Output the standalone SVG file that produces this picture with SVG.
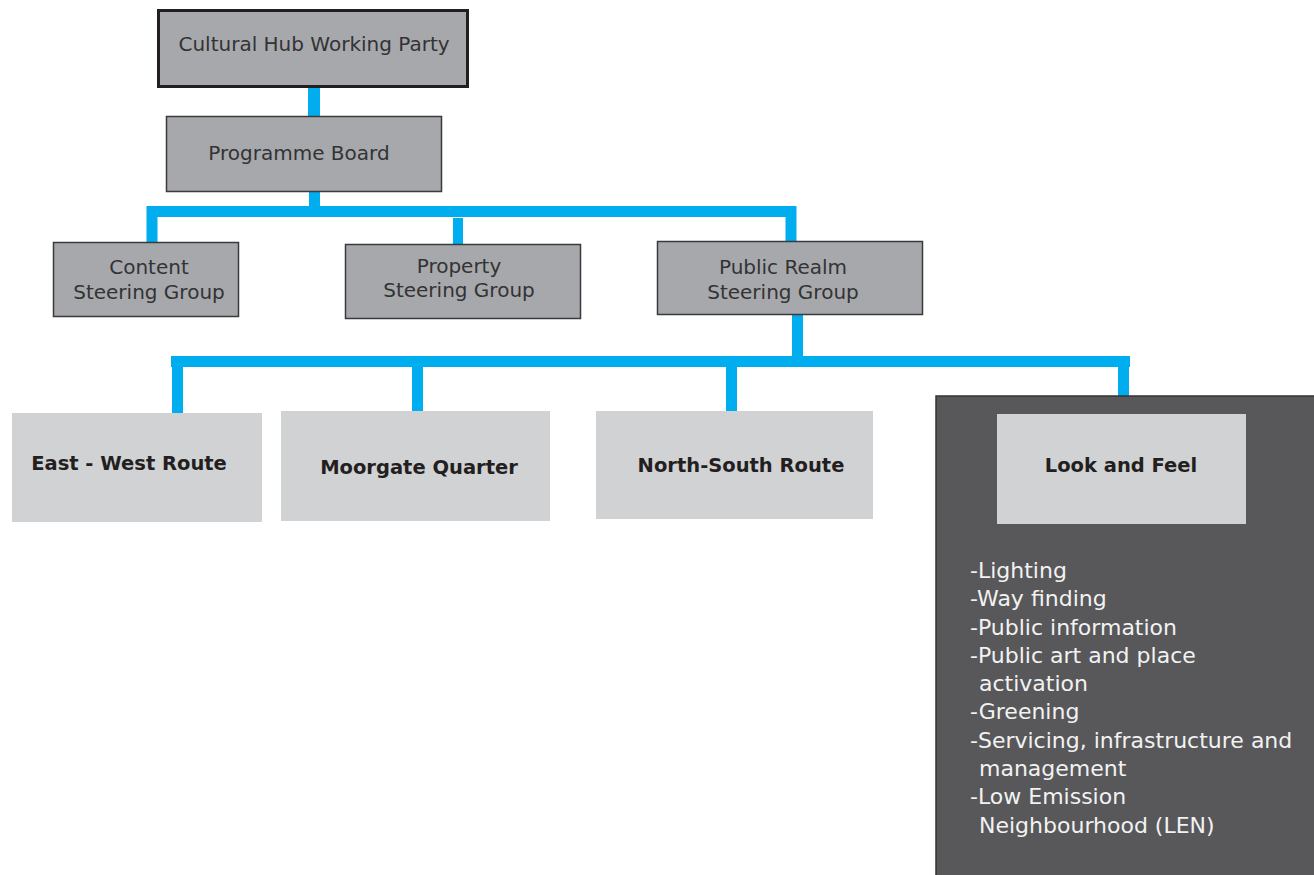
<svg xmlns="http://www.w3.org/2000/svg" width="1314" height="875" viewBox="0 0 1314 875">
<style>
.bg{fill:#ffffff}
.gray{fill:#a7a8ab;stroke:#3a3a3c;stroke-width:1.5}
.top{fill:#a7a8ab;stroke:#231f20;stroke-width:3}
.light{fill:#d1d2d4}
.dark{fill:#58585a;stroke:#333335;stroke-width:1.5}
.conn{fill:none;stroke:#00aeef;stroke-linejoin:miter;stroke-linecap:butt}
.t{font-family:"DejaVu Sans","Liberation Sans",sans-serif;font-size:20px;fill:#333335;text-anchor:middle}
.b{font-family:"DejaVu Sans","Liberation Sans",sans-serif;font-size:19.5px;font-weight:bold;fill:#231f20;text-anchor:middle}
.w{font-family:"DejaVu Sans","Liberation Sans",sans-serif;font-size:22px;fill:#f2f2f2}
</style>
<rect class="bg" x="0" y="0" width="1314" height="875"/>
<g id="connectors">
<path class="conn" stroke-width="12" d="M314,88 V116"/>
<path class="conn" stroke-width="11" d="M314.5,192 V211 M147,211.5 H796 M152,206 V242 M791,206 V241"/>
<path class="conn" stroke-width="10" d="M458,218 V244"/>
<path class="conn" stroke-width="11" d="M797.5,314 V361 M171,361.5 H1130 M177.5,356 V413 M417.5,361 V411 M731.5,361 V411 M1123.5,356 V396"/>
</g>
<g id="cultural-hub">
<rect class="top" x="158.5" y="10.5" width="309" height="76"/>
<text class="t" x="314" y="51">Cultural Hub Working Party</text>
</g>
<g id="programme-board">
<rect class="gray" x="166.5" y="116.5" width="275" height="75"/>
<text class="t" x="299" y="160">Programme Board</text>
</g>
<g id="content">
<rect class="gray" x="53.5" y="242.5" width="185" height="74"/>
<text class="t" x="149" y="274">Content</text>
<text class="t" x="149" y="299">Steering Group</text>
</g>
<g id="property">
<rect class="gray" x="345.5" y="244.5" width="235" height="74"/>
<text class="t" x="459" y="273">Property</text>
<text class="t" x="459" y="297">Steering Group</text>
</g>
<g id="public-realm">
<rect class="gray" x="657.5" y="241.5" width="265" height="73"/>
<text class="t" x="783" y="274">Public Realm</text>
<text class="t" x="783" y="299">Steering Group</text>
</g>
<g id="east-west">
<rect class="light" x="12" y="413" width="250" height="109"/>
<text class="b" x="129" y="470">East - West Route</text>
</g>
<g id="moorgate">
<rect class="light" x="281" y="411" width="269" height="110"/>
<text class="b" x="419" y="474">Moorgate Quarter</text>
</g>
<g id="north-south">
<rect class="light" x="596" y="411" width="277" height="108"/>
<text class="b" x="741" y="472">North-South Route</text>
</g>
<g id="look-and-feel">
<rect class="dark" x="936" y="396" width="390" height="490"/>
<rect class="light" x="997" y="414" width="249" height="110"/>
<text class="b" x="1121" y="472">Look and Feel</text>
<text class="w" x="970" y="578">-Lighting</text>
<text class="w" x="970" y="606">-Way finding</text>
<text class="w" x="970" y="635">-Public information</text>
<text class="w" x="970" y="663">-Public art and place</text>
<text class="w" x="979" y="691">activation</text>
<text class="w" x="970" y="719">-Greening</text>
<text class="w" x="970" y="748">-Servicing, infrastructure and</text>
<text class="w" x="979" y="776">management</text>
<text class="w" x="970" y="804">-Low Emission</text>
<text class="w" x="979" y="833">Neighbourhood (LEN)</text>
</g>
</svg>
